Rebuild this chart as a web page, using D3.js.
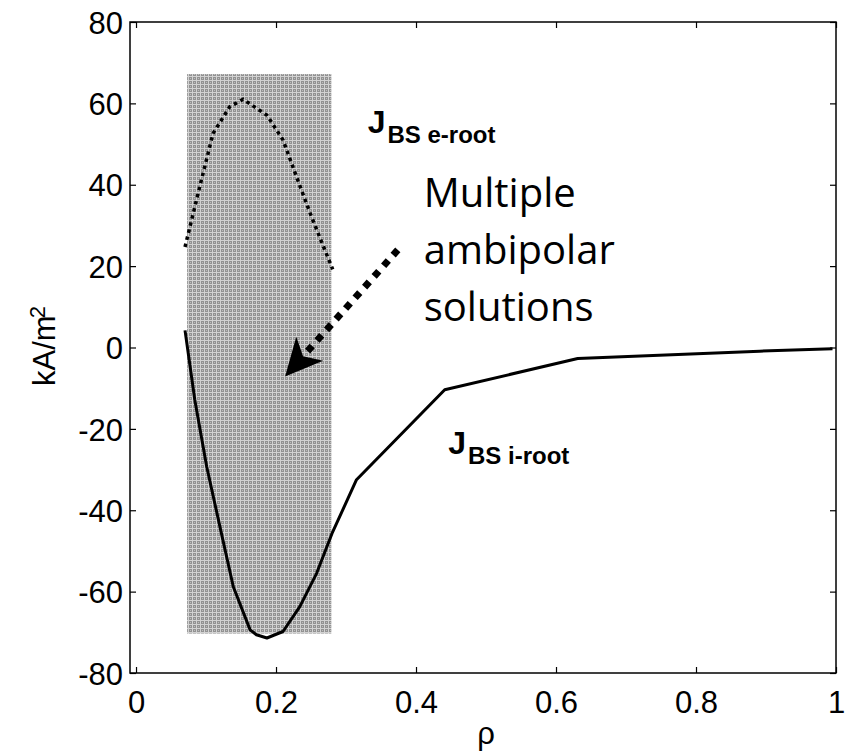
<!DOCTYPE html>
<html>
<head>
<meta charset="utf-8">
<script src="https://cdn.jsdelivr.net/npm/d3@7/dist/d3.min.js"></script>
<style>
  html, body { margin: 0; padding: 0; background: #fff; }
  svg text { fill: #000; }
</style>
</head>
<body>
<svg id="chart" width="846" height="755"></svg>
<script>
// Bootstrap current density vs normalized radius
const rhoTicks = [0, 0.2, 0.4, 0.6, 0.8, 1];
const rhoTickLabels = ["0", "0.2", "0.4", "0.6", "0.8", "1"];
const jTicks = [-80, -60, -40, -20, 0, 20, 40, 60, 80];
const jTickLabels = ["-80", "-60", "-40", "-20", "0", "20", "40", "60", "80"];

// electron-root branch (exists only in the multiple-solution band)
const eRootRho = [0.070, 0.091, 0.110, 0.134, 0.153, 0.187, 0.210, 0.232, 0.249, 0.268, 0.281];
const eRootJ   = [24.7, 39.5, 52.6, 59.2, 61.0, 57.1, 51.0, 40.7, 32.9, 24.7, 19.2];

// ion-root branch
const iRootRho = [0.070, 0.084, 0.101, 0.122, 0.139, 0.163, 0.172, 0.187, 0.210, 0.234, 0.258, 0.280, 0.315, 0.441, 0.631, 0.891, 0.995];
const iRootJ   = [4.2, -12.9, -29.3, -45.7, -58.8, -69.4, -70.6, -71.4, -69.8, -63.7, -55.5, -45.7, -32.5, -10.4, -2.7, -0.9, -0.3];

// band of radii where several ambipolar solutions coexist
const bandRho = [0.073, 0.279];
const bandJ = [-70.3, 67.2];

// annotation arrow (from text toward band)
const arrowFrom = [0.374, 24.0];
const arrowTo = [0.213, -7.1];

(function draw() {
  const svg = d3.select("#chart");
  const mLeft = 130, mRight = 836, mTop = 22, mBottom = 673;
  const sans = "Arial, 'Liberation Sans', sans-serif";

  const x = d3.scaleLinear().domain([-0.0086, 1]).range([mLeft, mRight]);
  const y = d3.scaleLinear().domain([-80, 80]).range([mBottom, mTop]);

  // texture for the shaded band
  const defs = svg.append("defs");
  const pat = defs.append("pattern")
    .attr("id", "grain").attr("patternUnits", "userSpaceOnUse")
    .attr("width", 4).attr("height", 4);
  pat.append("rect").attr("width", 4).attr("height", 4).attr("fill", "#929292");
  pat.append("rect").attr("width", 4).attr("height", 1).attr("fill", "#d2d2d2");
  pat.append("rect").attr("width", 1).attr("height", 4).attr("fill", "#d2d2d2");
  pat.append("rect").attr("x", 2).attr("y", 2).attr("width", 1).attr("height", 1).attr("fill", "#bdbdbd");

  svg.append("rect")
    .attr("x", x(bandRho[0])).attr("y", y(bandJ[1]))
    .attr("width", x(bandRho[1]) - x(bandRho[0]))
    .attr("height", y(bandJ[0]) - y(bandJ[1]))
    .attr("fill", "url(#grain)");

  const line = d3.line().x(d => x(d[0])).y(d => y(d[1]));

  svg.append("path")
    .datum(eRootRho.map((r, i) => [r, eRootJ[i]]))
    .attr("d", line)
    .attr("fill", "none").attr("stroke", "#000")
    .attr("stroke-width", 3.5).attr("stroke-dasharray", "3.5,3.8");

  svg.append("path")
    .datum(iRootRho.map((r, i) => [r, iRootJ[i]]))
    .attr("d", line)
    .attr("fill", "none").attr("stroke", "#000")
    .attr("stroke-width", 3).attr("stroke-linejoin", "round");

  // axes box with inward ticks
  const tickLen = 6;
  const axisG = svg.append("g");
  axisG.append("rect")
    .attr("x", mLeft).attr("y", mTop)
    .attr("width", mRight - mLeft).attr("height", mBottom - mTop)
    .attr("fill", "none").attr("stroke", "#000").attr("stroke-width", 1.5);

  const xb = axisG.append("g").attr("transform", `translate(0,${mBottom})`)
    .call(d3.axisBottom(x).tickValues(rhoTicks).tickSizeInner(-tickLen).tickSizeOuter(0)
      .tickFormat((d, i) => rhoTickLabels[i]));
  const xt = axisG.append("g").attr("transform", `translate(0,${mTop})`)
    .call(d3.axisTop(x).tickValues(rhoTicks).tickSizeInner(-tickLen).tickSizeOuter(0)
      .tickFormat(() => ""));
  const yl = axisG.append("g").attr("transform", `translate(${mLeft},0)`)
    .call(d3.axisLeft(y).tickValues(jTicks).tickSizeInner(-tickLen).tickSizeOuter(0)
      .tickFormat((d, i) => jTickLabels[i]));
  const yr = axisG.append("g").attr("transform", `translate(${mRight},0)`)
    .call(d3.axisRight(y).tickValues(jTicks).tickSizeInner(-tickLen).tickSizeOuter(0)
      .tickFormat(() => ""));

  [xb, xt, yl, yr].forEach(g => {
    g.select(".domain").remove();
    g.selectAll(".tick line").attr("stroke", "#000").attr("stroke-width", 1.2);
  });
  xb.selectAll(".tick text")
    .style("font-family", sans).style("font-size", "31px")
    .attr("y", 0).attr("dy", 0)
    .attr("transform", "translate(0,40)")
    .attr("fill", "#000");
  yl.selectAll(".tick text")
    .style("font-family", sans).style("font-size", "31px")
    .attr("x", -7).attr("dy", "0.36em")
    .attr("fill", "#000");

  // axis titles
  svg.append("text")
    .attr("x", x(0.5)).attr("y", 744)
    .attr("text-anchor", "middle")
    .style("font-family", sans).style("font-size", "31px")
    .text("ρ");

  const ylab = svg.append("text")
    .attr("transform", "translate(55,346) rotate(-90)")
    .attr("text-anchor", "middle")
    .style("font-family", sans).style("font-size", "31px");
  ylab.append("tspan").text("kA/m");
  ylab.append("tspan").style("font-size", "22px").attr("dy", -10).attr("dx", -3).text("2");

  // branch labels
  function branchLabel(pos, sub) {
    const t = svg.append("text")
      .attr("x", x(pos[0])).attr("y", y(pos[1]))
      .style("font-family", sans).style("font-weight", "bold").style("font-size", "32px");
    t.append("tspan").text("J");
    t.append("tspan").style("font-size", "24px").attr("dy", 10).attr("dx", 2).text(sub);
  }
  const eLabelPos = [0.331, 52.7];
  const iLabelPos = [0.446, -26.1];
  branchLabel(eLabelPos, "BS e-root");
  branchLabel(iLabelPos, "BS i-root");

  // annotation text
  const noteLines = ["Multiple", "ambipolar", "solutions"];
  const notePos = [0.411, 34.5];
  const note = svg.append("text")
    .attr("x", x(notePos[0])).attr("y", y(notePos[1]))
    .style("font-family", "'Open Sans', Lato, sans-serif").style("font-size", "40px");
  noteLines.forEach((s, i) => {
    note.append("tspan").attr("x", x(notePos[0])).attr("dy", i === 0 ? 0 : 57).text(s);
  });

  // arrow: dotted shaft + filled concave head
  const x0 = x(arrowFrom[0]), y0 = y(arrowFrom[1]);
  const x1 = x(arrowTo[0]), y1 = y(arrowTo[1]);
  const dx = x1 - x0, dy = y1 - y0, len = Math.hypot(dx, dy);
  const ux = dx / len, uy = dy / len, px = -uy, py = ux;
  const headLen = 37, notch = 27, halfW = 18;
  svg.append("line")
    .attr("x1", x0).attr("y1", y0)
    .attr("x2", x1 - ux * notch).attr("y2", y1 - uy * notch)
    .attr("stroke", "#000").attr("stroke-width", 7).attr("stroke-dasharray", "7,7.3");
  const bx = x1 - ux * headLen, by = y1 - uy * headLen;
  svg.append("path")
    .attr("d", `M${x1},${y1} L${bx + px * halfW},${by + py * halfW} L${x1 - ux * notch},${y1 - uy * notch} L${bx - px * halfW},${by - py * halfW} Z`)
    .attr("fill", "#000");
})();
</script>
</body>
</html>
